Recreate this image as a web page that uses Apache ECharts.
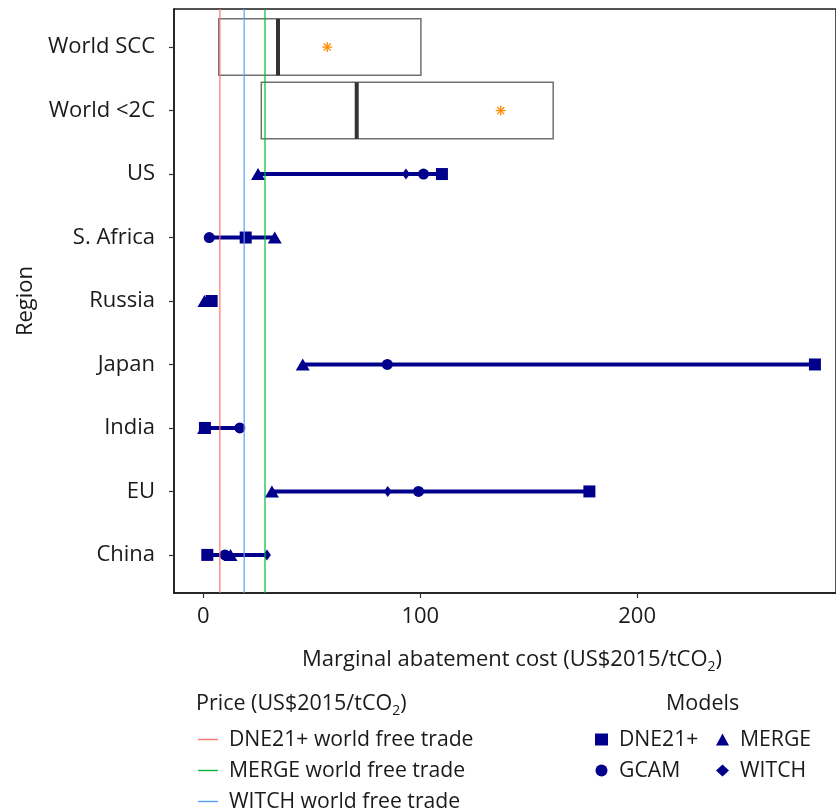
<!DOCTYPE html>
<html>
<head>
<meta charset="utf-8">
<style>html,body{margin:0;padding:0;background:#fff}#c{width:836px;height:811px}</style>
<script src="https://cdn.jsdelivr.net/npm/echarts@6/dist/echarts.min.js"></script>
</head>
<body>
<div id="c"></div>
<script>
// ---- data ----
const regions = ['China', 'EU', 'India', 'Japan', 'Russia', 'S. Africa', 'US', 'World <2C', 'World SCC'];
const dne21 = [1.8, 178, 0.7, 282, 3.8, 19.5, 110, null, null];
const gcam  = [9.9, 99.2, 16.8, 84.8, null, 2.7, 101.5, null, null];
const merge = [12.5, 31.6, 0.3, 45.8, 0.5, 32.9, 25.2, null, null];
const witch = [29.3, 85, null, null, null, null, 93.4, null, null];

const boxRegions = ['World <2C', 'World SCC'];
const boxLow    = [26.7, 7.1];
const boxMedian = [70.7, 34.4];
const boxHigh   = [161.3, 100.3];
const boxMean   = [137.1, 57.1];

const priceNames  = ['DNE21+ world free trade', 'MERGE world free trade', 'WITCH world free trade'];
const priceValues = [7.6, 28.4, 18.8];
const priceColors = ['#F8766D', '#00BA38', '#619CFF'];

const xTicks = [0, 100, 200];

// ---- build ----
const FONT = 'Open Sans';
const TXT = '#1a1a1a';
const NAVY = '#00008B';
const yMin = 0.4, yMax = 9.6;
const idx = r => regions.indexOf(r) + 1;

function pts(arr) {
  return arr.map((v, i) => v == null ? null : [v, i + 1]).filter(d => d);
}
const rangeData = regions.map((r, i) => {
  const vals = [dne21[i], gcam[i], merge[i], witch[i]].filter(v => v != null);
  return vals.length ? [Math.min(...vals), Math.max(...vals), i + 1] : null;
}).filter(d => d);

const boxData = boxRegions.map((r, i) => [boxLow[i], boxMedian[i], boxHigh[i], idx(r)]);
const meanData = boxRegions.map((r, i) => [boxMean[i], idx(r)]);

const chart = echarts.init(document.getElementById('c'), null, {renderer: 'canvas'});

const series = [];
series.push({
  type: 'custom', name: 'range', z: 2, silent: true,
  encode: {x: [0, 1], y: 2},
  data: rangeData,
  renderItem: function (params, api) {
    const a = api.coord([api.value(0), api.value(2)]);
    const b = api.coord([api.value(1), api.value(2)]);
    return {type: 'line', shape: {x1: a[0], y1: a[1], x2: b[0], y2: b[1]},
            style: {stroke: NAVY, lineWidth: 4}};
  }
});
series.push({
  type: 'custom', name: 'box', z: 2, silent: true,
  encode: {x: [0, 1, 2], y: 3},
  data: boxData,
  renderItem: function (params, api) {
    const y = api.value(3);
    const h = api.size([0, 0.89])[1];
    const lo = api.coord([api.value(0), y]);
    const md = api.coord([api.value(1), y]);
    const hi = api.coord([api.value(2), y]);
    return {type: 'group', children: [
      {type: 'rect', shape: {x: lo[0], y: lo[1] - h / 2, width: hi[0] - lo[0], height: h},
       style: {fill: 'rgba(255,255,255,0)', stroke: '#707070', lineWidth: 1.5}},
      {type: 'line', shape: {x1: md[0], y1: md[1] - h / 2, x2: md[0], y2: md[1] + h / 2},
       style: {stroke: '#333333', lineWidth: 4}}
    ]};
  }
});
series.push({
  type: 'custom', name: 'mean', z: 3, silent: true,
  encode: {x: 0, y: 1},
  data: meanData,
  renderItem: function (params, api) {
    const p = api.coord([api.value(0), api.value(1)]);
    const r = 5, d = r * 0.7071;
    const st = {stroke: '#FF8C00', lineWidth: 1.3};
    return {type: 'group', children: [
      {type: 'line', shape: {x1: p[0], y1: p[1] - r, x2: p[0], y2: p[1] + r}, style: st},
      {type: 'line', shape: {x1: p[0] - r, y1: p[1], x2: p[0] + r, y2: p[1]}, style: st},
      {type: 'line', shape: {x1: p[0] - d, y1: p[1] - d, x2: p[0] + d, y2: p[1] + d}, style: st},
      {type: 'line', shape: {x1: p[0] - d, y1: p[1] + d, x2: p[0] + d, y2: p[1] - d}, style: st}
    ]};
  }
});
const models = [
  {name: 'GCAM', data: gcam, symbol: 'circle', size: 11},
  {name: 'WITCH', data: witch, symbol: 'diamond', size: [8, 11]},
  {name: 'MERGE', data: merge, symbol: 'triangle', size: [14, 12]},
  {name: 'DNE21+', data: dne21, symbol: 'rect', size: 12}
];
models.forEach((m, k) => {
  series.push({
    type: 'scatter', name: m.name, z: 4 + k, symbol: m.symbol, symbolSize: m.size,
    itemStyle: {color: NAVY, opacity: 1}, silent: true,
    data: pts(m.data)
  });
});
priceNames.forEach((n, i) => {
  series.push({
    type: 'line', name: n, z: 10, symbol: 'none', silent: true,
    lineStyle: {color: priceColors[i], width: 1.2}, itemStyle: {color: priceColors[i]},
    data: [[priceValues[i], yMin], [priceValues[i], yMax]]
  });
});

const richMain = (size) => ({
  t: {fontFamily: FONT, fontSize: size, fontWeight: 'normal', color: TXT, lineHeight: 28},
  s: {fontFamily: FONT, fontSize: 14, fontWeight: 'normal', color: TXT, lineHeight: 14, verticalAlign: 'bottom'}
});
const legendText = {fontFamily: FONT, fontSize: 21.2, color: TXT, padding: [0, 0, 0, 6]};

const option = {
  backgroundColor: '#fff',
  animation: false,
  grid: {left: 174, top: 9, right: -2, bottom: 218, show: true, borderColor: '#1a1a1a', borderWidth: 1.5, containLabel: false},
  xAxis: {
    type: 'value', min: -13.56, max: 291.72,
    splitLine: {show: false},
    axisLine: {show: true, onZero: false, lineStyle: {color: '#1a1a1a', width: 1.5}},
    axisTick: {show: true, customValues: xTicks, length: 5, lineStyle: {color: '#333', width: 1.2}},
    axisLabel: {customValues: xTicks, margin: 13, fontFamily: FONT, fontSize: 22, color: TXT},
    name: '{t|Marginal abatement cost (US$2015/tCO}{s|2}{t|)}',
    nameLocation: 'middle', nameGap: 53,
    nameTextStyle: {rich: richMain(22), padding: [0, 0, 0, 14]}
  },
  yAxis: {
    type: 'value', min: yMin, max: yMax,
    splitLine: {show: false},
    axisLine: {show: true, onZero: false, lineStyle: {color: '#1a1a1a', width: 1.5}},
    axisTick: {show: true, customValues: regions.map((r, i) => i + 1), length: 5, lineStyle: {color: '#333', width: 1.2}},
    axisLabel: {customValues: regions.map((r, i) => i + 1), margin: 19, fontFamily: FONT, fontSize: 22, color: TXT,
                formatter: v => regions[Math.round(v) - 1]},
    name: 'Region', nameLocation: 'middle', nameGap: 137,
    nameTextStyle: {fontFamily: FONT, fontSize: 22, color: TXT}
  },
  title: [
    {text: '{t|Price (US$2015/tCO}{s|2}{t|)}', left: 196, top: 690, padding: 0,
     textStyle: {fontWeight: 'normal', rich: richMain(21.5)}},
    {text: 'Models', left: 666, top: 690, padding: 0,
     textStyle: {fontFamily: FONT, fontSize: 21.5, fontWeight: 'normal', color: TXT, lineHeight: 28}}
  ],
  legend: [
    {data: priceNames, orient: 'vertical', left: 193, top: 724, padding: 5, height: 140, icon: 'rect', itemWidth: 20, itemHeight: 1.4, itemGap: 10,
     selectedMode: false, textStyle: legendText},
    {data: ['DNE21+', 'GCAM'], orient: 'vertical', left: 590, top: 724, padding: 5, itemWidth: 13, itemHeight: 12, itemGap: 10,
     selectedMode: false, textStyle: legendText},
    {data: ['MERGE', 'WITCH'], orient: 'vertical', left: 711, top: 724, padding: 5, itemWidth: 13, itemHeight: 12, itemGap: 10,
     selectedMode: false, textStyle: legendText}
  ],
  series: series
};
chart.setOption(option);
</script>
</body>
</html>
